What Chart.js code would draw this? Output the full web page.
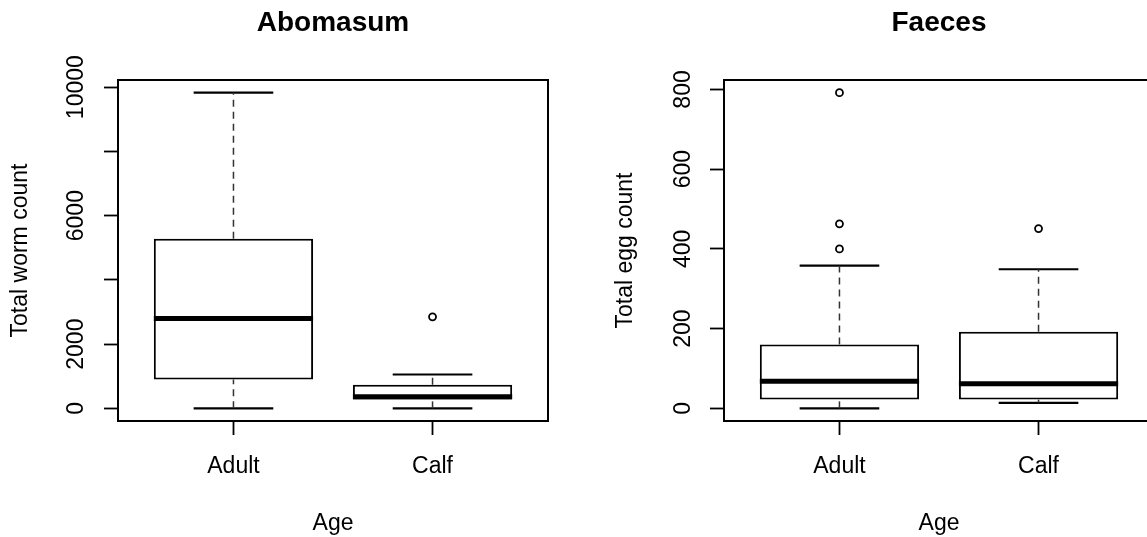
<!DOCTYPE html>
<html><head><meta charset="utf-8">
<script src="https://cdn.jsdelivr.net/npm/chart.js@4/dist/chart.umd.min.js"></script>
<style>
html,body{margin:0;padding:0;background:#fff;overflow:hidden;width:1147px;height:537px;}
#wrap{position:relative;width:1147px;height:537px;overflow:hidden;background:#fff;}
#c1{position:absolute;left:0;top:0;}
#c2{position:absolute;left:573px;top:0;}
</style></head><body>
<div id="wrap"><canvas id="c1" width="573" height="537"></canvas><canvas id="c2" width="587" height="537"></canvas></div>
<script>
// ---- data ----
const categories = ['Adult', 'Calf'];

// Abomasum: total worm count
const wormMin = [0, 0];
const wormQ1 = [900, 280];
const wormMedian = [2800, 360];
const wormQ3 = [5280, 735];
const wormMax = [9830, 1055];
const wormOutliers = [[], [2850]];
const wormTicks = [0, 2000, 4000, 6000, 8000, 10000];
const wormTickLabels = ['0', '2000', '', '6000', '', '10000'];

// Faeces: total egg count
const eggMin = [0, 14];
const eggQ1 = [22, 22];
const eggMedian = [68, 62];
const eggQ3 = [160, 192];
const eggMax = [358, 349];
const eggOutliers = [[400, 463, 792], [451]];
const eggTicks = [0, 200, 400, 600, 800];
const eggTickLabels = ['0', '200', '400', '600', '800'];

// ---- rendering ----
Chart.defaults.font.family = "'Liberation Sans', Arial, sans-serif";
Chart.defaults.color = '#000';

const framePlugin = {
  id: 'frame',
  afterDatasetsDraw(chart) {
    const a = chart.chartArea, ctx = chart.ctx;
    ctx.save();
    ctx.strokeStyle = '#000';
    ctx.lineWidth = 2;
    ctx.strokeRect(a.left, a.top, a.right - a.left, a.bottom - a.top);
    ctx.restore();
  }
};

function seg(points, width, dash, color) {
  return {
    type: 'line', data: points, borderColor: color || '#000', borderWidth: width,
    borderDash: dash, pointRadius: 0, pointHoverRadius: 0, tension: 0,
    fill: false, borderCapStyle: 'butt'
  };
}

function boxDatasets(mins, q1s, meds, q3s, maxs, outs) {
  const ds = [];
  const half = 0.4, capHalf = 0.2;
  categories.forEach((c, i) => {
    const x = i + 1;
    ds.push(seg([{x: x - half, y: meds[i]}, {x: x + half, y: meds[i]}], 5, []));
    ds.push(seg([{x: x, y: q3s[i]}, {x: x, y: maxs[i]}], 1.5, [7, 5], '#333'));
    ds.push(seg([{x: x, y: mins[i]}, {x: x, y: q1s[i]}], 1.5, [7, 5], '#333'));
    ds.push(seg([{x: x - capHalf, y: maxs[i]}, {x: x + capHalf, y: maxs[i]}], 2.2, []));
    ds.push(seg([{x: x - capHalf, y: mins[i]}, {x: x + capHalf, y: mins[i]}], 2.2, []));
  });
  ds.push({
    type: 'line', showLine: false,
    data: outs.flatMap((arr, i) => arr.map(v => ({x: i + 1, y: v}))),
    pointRadius: 3.5, pointHoverRadius: 3.5, pointBackgroundColor: '#fff',
    pointBorderColor: '#000', pointBorderWidth: 1.8
  });
  ds.push({
    type: 'bar',
    data: categories.map((c, i) => ({x: i + 1, y: [q1s[i], q3s[i]]})),
    backgroundColor: '#fff', borderColor: '#000', borderWidth: 2,
    borderSkipped: false, barPercentage: 0.8, categoryPercentage: 1
  });
  return ds;
}

function makeChart(id, opt) {
  const all = [].concat(opt.mins, opt.maxs, ...opt.outs);
  const lo = Math.min(...all), hi = Math.max(...all);
  const ext = (hi - lo) * 0.04;
  new Chart(document.getElementById(id), {
    type: 'bar',
    data: {datasets: boxDatasets(opt.mins, opt.q1s, opt.meds, opt.q3s, opt.maxs, opt.outs)},
    plugins: [framePlugin],
    options: {
      responsive: false, animation: false, events: [],
      layout: {padding: {left: 0, right: opt.padRight, top: 0, bottom: 0}},
      plugins: {
        legend: {display: false}, tooltip: {enabled: false},
        title: {display: true, text: opt.title, fullSize: false, color: '#000',
          font: {size: 28, weight: 'bold'}, padding: {top: 6.2, bottom: 40.2}}
      },
      scales: {
        x: {
          type: 'linear', min: 0.42, max: 2.58, offset: false,
          grid: {offset: false, drawOnChartArea: false, drawTicks: true, tickLength: 14, tickColor: '#000', tickWidth: 1.8},
          border: {display: false},
          ticks: {padding: 17.5, font: {size: 23}, color: '#000', autoSkip: false, maxRotation: 0,
            callback: (v, i) => categories[i]},
          afterBuildTicks: s => { s.ticks = categories.map((c, i) => ({value: i + 1})); },
          afterFit: s => { s.height = 116; },
          title: {display: true, text: 'Age', color: '#000', font: {size: 23}, padding: {top: 0, bottom: 0}}
        },
        y: {
          type: 'linear', min: lo - ext, max: hi + ext,
          grid: {drawOnChartArea: false, drawTicks: true, tickLength: 14, tickColor: '#000', tickWidth: 1.8},
          border: {display: false},
          ticks: {minRotation: 90, maxRotation: 90, crossAlign: 'center', padding: opt.tickPad,
            font: {size: 23}, color: '#000', autoSkip: false,
            callback: (v, i) => opt.tickLabels[i]},
          afterBuildTicks: s => { s.ticks = opt.ticks.map(v => ({value: v})); },
          afterFit: s => { s.width = opt.yWidth; },
          title: {display: true, text: opt.yTitle, color: '#000', font: {size: 23}, padding: {top: opt.yTitlePad, bottom: 0}}
        }
      }
    }
  });
}

makeChart('c1', {
  title: 'Abomasum', yTitle: 'Total worm count',
  mins: wormMin, q1s: wormQ1, meds: wormMedian, q3s: wormQ3, maxs: wormMax, outs: wormOutliers,
  ticks: wormTicks, tickLabels: wormTickLabels,
  yWidth: 118, padRight: 25, tickPad: -4.4, yTitlePad: 7
});
makeChart('c2', {
  title: 'Faeces', yTitle: 'Total egg count',
  mins: eggMin, q1s: eggQ1, meds: eggMedian, q3s: eggQ3, maxs: eggMax, outs: eggOutliers,
  ticks: eggTicks, tickLabels: eggTickLabels,
  yWidth: 151, padRight: 6, tickPad: 7.5, yTitlePad: 39.2
});
</script>
</body></html>
